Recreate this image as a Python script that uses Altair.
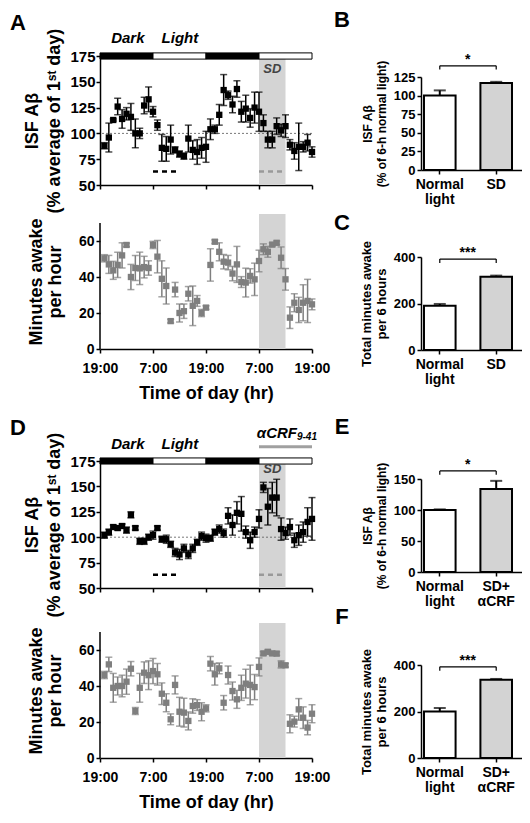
import altair as alt
import pandas as pd

FONT = "Liberation Sans"

# ---------------- data ----------------
hours = list(range(1, 49))
tick_hours = [0, 12, 24, 36, 48]
tick_labels = ["19:00", "7:00", "19:00", "7:00", "19:00"]

phase_start = [0, 12, 24, 36]
phase_end = [12, 24, 36, 48]
phase_name = ["Dark", "Light", "Dark", "Light"]

normal_window = [12, 18]
sd_window = [36, 42]
crf_window = [36, 48]

a_isf = [88, 96, 113, 126, 114, 119, 116, 100, 100, 127, 133, 121, 108, 86, 85, 94, 84, 80, 78, 95, 84, 82, 86, 87,
         104, 104, 118, 142, 137, 128, 143, 121, 124, 115, 125, 121, 110, 94, 94, 107, 103, 107, 89, 83, 87, 87, 91, 82]
a_isf_sem = [3, 14, 1, 8, 9, 6, 13, 14, 5, 8, 12, 5, 5, 13, 12, 14, 3, 3, 3, 13, 9, 12, 10, 15,
             10, 4, 10, 15, 4, 8, 8, 10, 13, 9, 15, 19, 8, 8, 8, 8, 6, 11, 5, 8, 23, 5, 8, 5]

a_awake = [50.4, 47, 43.7, 46.7, 52, 57.8, 40, 45, 44.8, 45.5, 45, 57.8, 51.3, 39, 35, 15.5, 33, 20, 21, 30.7, 24, 26.7, 20, 23,
           46.7, 59.6, 54, 48.5, 48, 41.9, 47, 37.2, 36.9, 40.6, 38.7, 48.9, 55.4, 54, 58, 59, 50.7, 38.7, 17.4, 25.7, 21.7, 25.7, 26.7, 24.8]
a_awake_sem = [2, 5, 5, 7, 7, 1, 7, 7, 9, 6, 4, 2, 9, 10, 10, 1, 4, 5, 4, 4, 11, 3, 2, 1,
               9, 1, 5, 4, 4, 4, 10, 3, 8, 4, 9, 6, 3, 3, 1, 1, 6, 6, 6, 5, 7, 10, 12, 3]

d_isf = [102, 105, 110, 109, 111, 107, 122, 109, 96, 96, 100, 102, 109, 98, 98, 93, 85, 83, 89, 83, 89, 95, 101, 99,
         99, 105, 108, 104, 121, 112, 124, 123, 105, 97, 105, 118, 149, 130, 139, 139, 108, 104, 110, 97, 102, 105, 115, 118]
d_isf_sem = [3, 3, 2, 2, 2, 3, 3, 2, 3, 3, 3, 4, 2, 3, 4, 3, 4, 5, 4, 4, 4, 3, 4, 4,
             3, 3, 4, 4, 8, 10, 11, 17, 6, 8, 5, 9, 5, 18, 15, 18, 11, 6, 8, 7, 10, 10, 14, 21]

d_awake = [46.1, 52, 39, 40, 40, 42.4, 49.6, 26.1, 39, 47.4, 46, 48.3, 46.5, 35.7, 30.7, 21.5, 40.6, 25.7, 25.2, 20.6, 28.9, 29.4, 25.7, 27.6,
           52.4, 46.5, 49.8, 30.7, 46.1, 37.2, 32.6, 39, 41.3, 40.6, 39.4, 50.6, 58.1, 59, 58.1, 58, 52, 51.5, 19, 20.2, 27, 22.4, 16.9, 24.6]
d_awake_sem = [2, 4, 8, 5, 6, 7, 4, 2, 8, 6, 8, 7, 6, 6, 5, 3, 5, 8, 8, 5, 4, 3, 5, 2,
               4, 6, 3, 4, 5, 5, 5, 7, 8, 11, 7, 5, 1, 1, 1, 1, 2, 1, 5, 3, 6, 6, 4, 5]

groups_bc = ["Normal|light", "SD"]
groups_ef = ["Normal|light", "SD+|αCRF"]
b_mean, b_sem = [100, 117], [7, 1.5]
c_mean, c_sem = [190, 315], [8, 5]
e_mean, e_sem = [100, 134], [1, 13]
f_mean, f_sem = [200, 337], [15, 3]

isf_ticks = [50, 75, 100, 125, 150, 175]
awake_ticks = [0, 20, 40, 60]
b_ticks = [0, 25, 50, 75, 100, 125]
c_ticks = [0, 200, 400]
e_ticks = [0, 50, 100, 150]
f_ticks = [0, 200, 400]

# ---------------- helpers ----------------
label_expr = ""
for hv, lab in zip(tick_hours, tick_labels):
    label_expr += f"datum.value == {hv} ? '{lab}' : "
label_expr += "''"

TS_W = 212
SHADE = "#d4d4d4"
GRAY = "#7f7f7f"


def xscale():
    return alt.Scale(domain=[0, 48], nice=False)


def letter_title(letter, dx, offset):
    return alt.TitleParams(text=letter, anchor="start", frame="group", dx=dx, offset=offset,
                           fontSize=22, font=FONT, fontWeight="bold", color="black")


def isf_panel(vals, sems, letter, sd_y, title_offset, crf=False):
    df = pd.DataFrame({"h": hours, "v": vals, "sem": sems})
    df["lo"] = df["v"] - df["sem"]
    df["hi"] = df["v"] + df["sem"]
    ysc = alt.Scale(domain=[50, 175], nice=False)
    xax = alt.Axis(values=tick_hours, labels=False, title=None, tickSize=4)
    yax = alt.Axis(values=isf_ticks, title=["ISF Aβ", "(% average of 1ˢᵗ day)"],
                   titleFontSize=18, titleLineHeight=22, labelFontSize=15, tickSize=4, labelPadding=1,
                   titlePadding=6, labelOverlap=False)

    def X(f):
        return alt.X(f, scale=xscale(), axis=xax)

    def Y(f):
        return alt.Y(f, scale=ysc, axis=yax)

    base = alt.Chart(df)
    shade = alt.Chart(pd.DataFrame({"s": [sd_window[0]], "e": [sd_window[1]], "lo": [50], "hi": [172]})).mark_rect(
        color=SHADE).encode(x=X("s:Q"), x2="e:Q", y=Y("lo:Q"), y2="hi:Q")
    ref = alt.Chart(pd.DataFrame({"y": [100]})).mark_rule(strokeDash=[2, 2], color="#555", strokeWidth=0.8).encode(
        y=Y("y:Q"))
    dash_n = alt.Chart(pd.DataFrame({"s": [normal_window[0]], "e": [normal_window[1]], "y": [63]})).mark_rule(
        strokeDash=[5, 4], strokeWidth=2.5, color="black").encode(x=X("s:Q"), x2="e:Q", y=Y("y:Q"))
    dash_s = alt.Chart(pd.DataFrame({"s": [sd_window[0]], "e": [sd_window[1]], "y": [63]})).mark_rule(
        strokeDash=[5, 4], strokeWidth=2.5, color="#999999").encode(x=X("s:Q"), x2="e:Q", y=Y("y:Q"))
    err = base.mark_rule(strokeWidth=1.5, color="black").encode(x=X("h:Q"), y=Y("lo:Q"), y2="hi:Q")
    cap_lo = base.mark_tick(orient="horizontal", size=7, thickness=1.5, color="black").encode(
        x=X("h:Q"), y=Y("lo:Q"))
    cap_hi = base.mark_tick(orient="horizontal", size=7, thickness=1.5, color="black").encode(
        x=X("h:Q"), y=Y("hi:Q"))
    pts = base.mark_square(size=40, color="black", opacity=1).encode(x=X("h:Q"), y=Y("v:Q"))
    phases = alt.Chart(pd.DataFrame({"s": phase_start, "e": phase_end, "name": phase_name,
                                     "lo": [172] * 4, "hi": [178] * 4})).mark_rect(
        stroke="black", strokeWidth=1).encode(
        x=X("s:Q"), x2="e:Q", y=Y("lo:Q"), y2="hi:Q",
        fill=alt.condition(alt.datum.name == "Dark", alt.value("black"), alt.value("white")))
    ptxt = alt.Chart(pd.DataFrame({"x": [6.3, 18.1], "y": [192, 192], "t": ["Dark", "Light"]})).mark_text(
        font=FONT, fontSize=15, fontWeight="bold", fontStyle="italic", color="black").encode(
        x=X("x:Q"), y=Y("y:Q"), text="t:N")
    sdtxt = alt.Chart(pd.DataFrame({"x": [39], "y": [sd_y], "t": ["SD"]})).mark_text(
        font=FONT, fontSize=13, fontWeight="bold", fontStyle="italic", color="#444").encode(
        x=X("x:Q"), y=Y("y:Q"), text="t:N")
    layers = [shade, ref, dash_n, dash_s, err, cap_lo, cap_hi, pts, phases, ptxt, sdtxt]
    if crf:
        crf_line = alt.Chart(pd.DataFrame({"s": [crf_window[0]], "e": [crf_window[1]], "y": [189]})).mark_rule(
            strokeWidth=3, color="#a0a0a0").encode(x=X("s:Q"), x2="e:Q", y=Y("y:Q"))
        crf_a = alt.Chart(pd.DataFrame({"x": [44.6], "y": [203], "t": ["αCRF"]})).mark_text(
            font=FONT, fontSize=15, fontWeight="bold", fontStyle="italic", color="black", align="right").encode(
            x=X("x:Q"), y=Y("y:Q"), text="t:N")
        crf_b = alt.Chart(pd.DataFrame({"x": [44.6], "y": [203], "t": ["9-41"]})).mark_text(
            font=FONT, fontSize=10, fontWeight="bold", fontStyle="italic", color="black", align="left",
            dy=4).encode(x=X("x:Q"), y=Y("y:Q"), text="t:N")
        layers += [crf_line, crf_a, crf_b]
    return alt.layer(*layers).properties(width=TS_W, height=129 if not crf else 127,
                                         title=letter_title(letter, -90, title_offset))


def awake_panel(vals, sems):
    df = pd.DataFrame({"h": hours, "v": vals, "sem": sems})
    df["lo"] = df["v"] - df["sem"]
    df["hi"] = df["v"] + df["sem"]
    ysc = alt.Scale(domain=[0, 75], nice=False)
    xax = alt.Axis(values=tick_hours, labelExpr=label_expr, title="Time of day (hr)", titleFontSize=18,
                   labelFontSize=14, tickSize=4, labelPadding=8, titlePadding=9, labelFlush=False)
    yax = alt.Axis(values=awake_ticks, title=["Minutes awake", "per hour"], titleFontSize=18,
                   titleLineHeight=19, labelFontSize=14, tickSize=4, labelPadding=2, domain=False, titlePadding=14,
                   labelOverlap=False)

    def X(f):
        return alt.X(f, scale=xscale(), axis=xax)

    def Y(f):
        return alt.Y(f, scale=ysc, axis=yax)

    base = alt.Chart(df)
    shade = alt.Chart(pd.DataFrame({"s": [sd_window[0]], "e": [sd_window[1]], "lo": [0], "hi": [75]})).mark_rect(
        color=SHADE).encode(x=X("s:Q"), x2="e:Q", y=Y("lo:Q"), y2="hi:Q")
    yline = alt.Chart(pd.DataFrame({"lo": [0], "hi": [70]})).mark_rule(color="black", strokeWidth=1.5).encode(
        x=alt.value(0), y=Y("lo:Q"), y2="hi:Q")
    err = base.mark_rule(strokeWidth=1.5, color=GRAY).encode(x=X("h:Q"), y=Y("lo:Q"), y2="hi:Q")
    cap_lo = base.mark_tick(orient="horizontal", size=7, thickness=1.5, color=GRAY).encode(x=X("h:Q"), y=Y("lo:Q"))
    cap_hi = base.mark_tick(orient="horizontal", size=7, thickness=1.5, color=GRAY).encode(x=X("h:Q"), y=Y("hi:Q"))
    pts = base.mark_square(size=40, color=GRAY, opacity=1).encode(x=X("h:Q"), y=Y("v:Q"))
    return alt.layer(shade, yline, err, cap_lo, cap_hi, pts).properties(width=TS_W, height=135)


def bar_panel(groups, means, sems, domain, tvals, br_y, br_drop, stars, ytitle, letter, letter_y, tfs):
    df = pd.DataFrame({"g": groups, "m": means, "sem": sems})
    df["top"] = df["m"] + df["sem"]
    xsc = alt.Scale(domain=groups, paddingInner=0.44, paddingOuter=0.115, align=0.23)
    ysc = alt.Scale(domain=domain, nice=False)
    xax = alt.Axis(title=None, labelExpr="split(datum.label, '|')", labelAngle=0, labelFontSize=14,
                   labelLineHeight=15, tickSize=4, labelPadding=3)
    yax = alt.Axis(values=tvals, title=ytitle, titleFontSize=tfs, titleLineHeight=tfs + 2, labelFontSize=13,
                   tickSize=4, labelPadding=2, titlePadding=5, labelOverlap=False)

    def X(f):
        return alt.X(f, scale=xsc, axis=xax)

    def Y(f):
        return alt.Y(f, scale=ysc, axis=yax)

    bars = alt.Chart(df).mark_bar(stroke="black", strokeWidth=2).encode(
        x=X("g:N"), y=Y("m:Q"),
        fill=alt.condition(alt.datum.g == groups[0], alt.value("white"), alt.value("#d3d3d3")))
    err = alt.Chart(df).mark_rule(strokeWidth=2, color="black").encode(x=X("g:N"), y=Y("m:Q"), y2="top:Q")
    cap = alt.Chart(df).mark_tick(orient="horizontal", size=12, thickness=2, color="black").encode(
        x=X("g:N"), y=Y("top:Q"))
    bdf = pd.DataFrame({"a": [groups[0]], "b": [groups[1]], "y": [br_y], "t": [stars]})
    br = alt.Chart(bdf).mark_rule(strokeWidth=1.2, color="black").encode(x=X("a:N"), x2="b:N", y=Y("y:Q"))
    tdf = pd.DataFrame({"g": groups, "y": [br_y] * 2, "y2": [br_y - br_drop] * 2})
    brt = alt.Chart(tdf).mark_rule(strokeWidth=1.2, color="black").encode(x=X("g:N"), y=Y("y:Q"), y2="y2:Q")
    st = alt.Chart(bdf).mark_text(font=FONT, fontSize=14, fontWeight="bold", color="black", dx=28, dy=-6).encode(
        x=X("a:N"), y=Y("y:Q"), text="t:N")
    lt = alt.Chart(pd.DataFrame({"t": [letter]})).mark_text(
        font=FONT, fontSize=22, fontWeight="bold", color="black", align="center", baseline="middle").encode(
        x=alt.value(-79), y=alt.value(letter_y), text="t:N")
    return alt.layer(bars, err, cap, br, brt, st, lt).properties(width=101, height=93)


a_top = isf_panel(a_isf, a_isf_sem, "A", 162, -7)
a_bot = awake_panel(a_awake, a_awake_sem)
d_top = isf_panel(d_isf, d_isf_sem, "D", 167, -14, crf=True)
d_bot = awake_panel(d_awake, d_awake_sem)

isf_title_bar = ["ISF Aβ", "(% of 6-h normal light)"]
min_title_bar = ["Total minutes awake", "per 6 hours"]
b = bar_panel(groups_bc, b_mean, b_sem, [0, 125], b_ticks, 140, 5, "*", isf_title_bar, "B", -57.5, 12)
c = bar_panel(groups_bc, c_mean, c_sem, [0, 400], c_ticks, 391, 17, "***", min_title_bar, "C", -34, 13)
e = bar_panel(groups_ef, e_mean, e_sem, [0, 150], e_ticks, 163, 6, "*", isf_title_bar, "E", -52, 12)
f = bar_panel(groups_ef, f_mean, f_sem, [0, 400], f_ticks, 392, 17, "***", min_title_bar, "F", -48, 13)

# invisible spacer that lets the right column start lower than the left one
spacer = alt.Chart(pd.DataFrame({"s": [0]})).mark_point(opacity=0).encode(
    x=alt.X("s:Q", axis=None), y=alt.Y("s:Q", axis=None)).properties(width=101, height=1)

left = alt.vconcat(alt.vconcat(a_top, a_bot, spacing=1), alt.vconcat(d_top, d_bot, spacing=6), spacing=14)
right = alt.vconcat(
    alt.vconcat(spacer, alt.vconcat(b, c, spacing=6), spacing=-52),
    alt.vconcat(e, f, spacing=-2), spacing=30)

chart = alt.hconcat(left, right, spacing=4).properties(
    padding={"left": 2, "top": 0, "right": 0, "bottom": 0}
).configure_axis(
    labelFont=FONT, titleFont=FONT, labelFontWeight="bold", titleFontWeight="bold",
    labelColor="black", titleColor="black", domainColor="black", tickColor="black",
    domainWidth=1.5, tickWidth=1.5, grid=False, labelOverlap=False
).configure_view(stroke=None)

chart.save("out.html", embed_options={"renderer": "svg", "actions": False})
